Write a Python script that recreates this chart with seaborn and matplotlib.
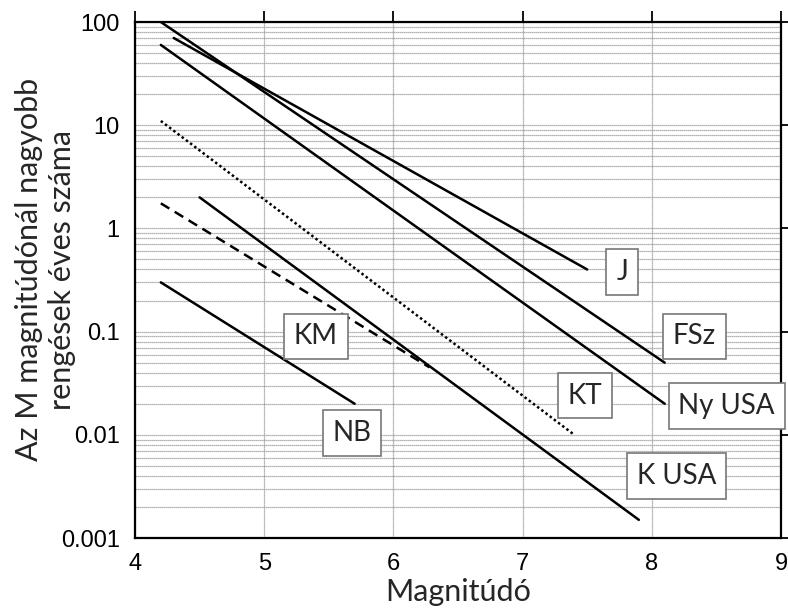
import matplotlib
matplotlib.use("Agg")
import matplotlib.pyplot as plt
import matplotlib.ticker as mticker
import pandas as pd
import seaborn as sns

# magnitude at both ends of each line, and the annual count there
names = ["J", "FSz", "Ny USA", "K USA", "KT", "KM", "NB"]
m_start = [4.3, 4.2, 4.2, 4.5, 4.2, 4.2, 4.2]
m_end = [7.5, 8.1, 8.1, 7.9, 7.4, 6.28, 5.7]
n_start = [70, 100, 60, 2.0, 11, 1.75, 0.3]
n_end = [0.4, 0.05, 0.02, 0.0015, 0.01, 0.045, 0.02]
styles = ["solid", "solid", "solid", "solid", "dotted", "dashed", "solid"]

# where the boxed names sit
label_m = [7.77, 8.33, 8.58, 8.19, 7.48, 5.40, 5.68]
label_n = [0.38, 0.09, 0.019, 0.004, 0.024, 0.09, 0.0104]

rows = []
for name, m0, m1, n0, n1 in zip(names, m_start, m_end, n_start, n_end):
    rows.append({"series": name, "M": m0, "N": n0})
    rows.append({"series": name, "M": m1, "N": n1})
df = pd.DataFrame(rows)

sns.set_style("white")
plt.rcParams["font.family"] = ["Liberation Sans", "DejaVu Sans"]

fig = plt.figure(figsize=(7.88, 6.08), dpi=100)
ax = fig.add_axes([0.1713, 0.1151, 0.8198, 0.8487])

dash_map = {"solid": "-", "dotted": (0, (1, 1.1)), "dashed": (0, (4, 2.5))}
for name, st in zip(names, styles):
    sub = df[df["series"] == name]
    sns.lineplot(data=sub, x="M", y="N", ax=ax, color="black",
                 linewidth=1.8, linestyle=dash_map[st], legend=False)

ax.set_yscale("log")
ax.set_xlim(4, 9)
ax.set_ylim(0.001, 100)
ax.set_xticks([4, 5, 6, 7, 8, 9])
ax.set_yticks([0.001, 0.01, 0.1, 1, 10, 100])
ax.yaxis.set_major_formatter(mticker.FuncFormatter(lambda v, p: f"{v:g}"))
ax.yaxis.set_minor_locator(mticker.LogLocator(base=10, subs=range(2, 10)))
ax.yaxis.set_minor_formatter(mticker.NullFormatter())

ax.grid(True, which="major", axis="x", color="#999999", linewidth=0.9, linestyle=(0, (1, 0.6)))
ax.grid(True, which="both", axis="y", color="#999999", linewidth=0.9, linestyle=(0, (1, 0.6)))
ax.tick_params(axis="both", which="major", direction="out", length=8, width=1.3,
               labelsize=17, top=True, right=True, labeltop=False, labelright=False,
               colors="black", pad=3)
ax.tick_params(axis="y", which="minor", length=0)
for sp in ax.spines.values():
    sp.set_color("black")
    sp.set_linewidth(1.6)

for name, lm, ln in zip(names, label_m, label_n):
    ax.text(lm, ln, name, ha="center", va="center", fontsize=20,
            family=["Lato", "DejaVu Sans"],
            bbox=dict(boxstyle="square,pad=0.35", fc="white", ec="#777777", lw=1.2))

ax.set_xlabel("Magnitúdó", fontsize=22, family=["Lato", "DejaVu Sans"], labelpad=2)
ax.set_ylabel("Az M magnitúdónál nagyobb\nrengések éves száma", fontsize=22,
              family=["Lato", "DejaVu Sans"], linespacing=1.2)
ax.yaxis.set_label_coords(-0.092, 0.52)

fig.savefig("out.png", dpi=100)
